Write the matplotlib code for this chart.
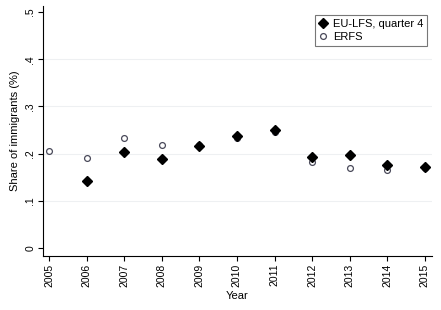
import matplotlib
matplotlib.use('Agg')
from matplotlib import pyplot as plt

# data
years = [2005, 2006, 2007, 2008, 2009, 2010, 2011, 2012, 2013, 2014, 2015]
eulfs = [None, 0.142, 0.203, 0.188, 0.217, 0.238, 0.251, 0.192, 0.197, 0.175, 0.171]
erfs = [0.205, 0.191, 0.233, 0.218, 0.219, 0.234, 0.245, 0.183, 0.169, 0.166, 0.170]
yticks = [0, 0.1, 0.2, 0.3, 0.4, 0.5]
ylabels = ['0', '.1', '.2', '.3', '.4', '.5']

plt.rcParams['font.family'] = ['Liberation Sans', 'DejaVu Sans']

fig = plt.figure(figsize=(4.41, 3.10), dpi=100)
ax = fig.add_axes([43 / 441, 1 - 256 / 310, (432 - 43) / 441, (256 - 6) / 310])

eu_x = [y for y, v in zip(years, eulfs) if v is not None]
eu_y = [v for v in eulfs if v is not None]

ax.plot(years, erfs, linestyle='none', marker='o', ms=4.2, mfc='white',
        mec='#4a4a5a', mew=0.9, label='ERFS', zorder=3)
ax.plot(eu_x, eu_y, linestyle='none', marker='D', ms=5.5, color='black',
        label='EU-LFS, quarter 4', zorder=4)

ax.set_xlim(2004.84, 2015.19)
ax.set_ylim(-0.017, 0.513)
ax.set_xticks(years)
ax.set_xticklabels([str(y) for y in years], rotation=90, fontsize=7.5)
ax.set_yticks(yticks)
ax.set_yticklabels(ylabels, rotation=90, fontsize=7.5, va='center')

for g in [0.1, 0.2, 0.3, 0.4]:
    ax.axhline(g, color='#eef0f2', lw=0.8, zorder=1)

ax.spines['top'].set_visible(False)
ax.spines['right'].set_visible(False)
ax.spines['left'].set_linewidth(0.8)
ax.spines['bottom'].set_linewidth(0.8)
ax.tick_params(axis='both', length=3.5, width=0.8, pad=2)

ax.set_xlabel('Year', fontsize=8, labelpad=3)
ax.set_ylabel('Share of immigrants (%)', fontsize=8, labelpad=4)

handles, labels = ax.get_legend_handles_labels()
leg = ax.legend(handles[::-1], labels[::-1], loc='upper right', fontsize=8,
                frameon=True, fancybox=False, edgecolor='#555555',
                handletextpad=0.5, handlelength=0.8, borderpad=0.35,
                labelspacing=0.3, borderaxespad=0,
                bbox_to_anchor=(0.988, 0.965))
leg.get_frame().set_linewidth(0.8)

fig.savefig('out.png', dpi=100)
